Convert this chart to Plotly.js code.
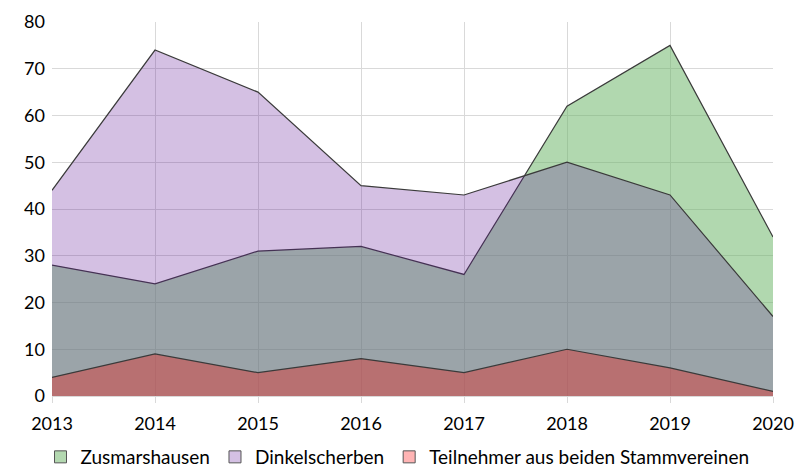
<!DOCTYPE html>
<html><head><meta charset="utf-8">
<script src="https://cdn.plot.ly/plotly-3.0.1.min.js"></script>
<style>html,body{margin:0;padding:0;background:#fff}</style>
</head><body>
<div id="chart" style="width:795px;height:470px"></div>
<script>
var years = [2013, 2014, 2015, 2016, 2017, 2018, 2019, 2020];
var zusmarshausen = [28, 24, 31, 32, 26, 62, 75, 34];
var dinkelscherben = [44, 74, 65, 45, 43, 50, 43, 17];
var beide = [4, 9, 5, 8, 5, 10, 6, 1];
var names = ['Zusmarshausen', 'Dinkelscherben', 'Teilnehmer aus beiden Stammvereinen'];

var lineStyle = {color: '#3a3a3a', width: 1.2};
var fills = ['rgba(106,180,101,0.52)', 'rgba(101,30,155,0.28)', 'rgba(213,59,58,0.5)'];
var legendColors = ['#b3d8b0', '#d4c0e3', '#ffb4b4'];
var series = [zusmarshausen, dinkelscherben, beide];

var traces = [];
series.forEach(function (s, i) {
  traces.push({x: years, y: s, name: names[i], type: 'scatter', mode: 'lines', fill: 'tozeroy',
    fillcolor: fills[i], line: lineStyle, showlegend: false});
});
series.forEach(function (s, i) {
  traces.push({x: [null], y: [null], name: names[i], type: 'scatter', mode: 'markers',
    marker: {symbol: 'square', size: 12, color: legendColors[i], line: {color: '#555', width: 1}},
    showlegend: true});
});

var layout = {
  width: 795, height: 470,
  margin: {l: 52, r: 22, t: 22, b: 74, autoexpand: false},
  paper_bgcolor: '#fff', plot_bgcolor: '#fff',
  font: {family: 'Lato, "Open Sans", sans-serif', size: 18, color: '#000'},
  showlegend: true,
  legend: {orientation: 'h', x: 0.5, xanchor: 'center', xref: 'container',
           y: 13 / 470, yanchor: 'middle', yref: 'container',
           font: {size: 19}, itemwidth: 30, traceorder: 'normal'},
  xaxis: {range: [2013, 2020], tickvals: years, ticktext: years.map(String),
          showgrid: true, gridcolor: '#d9d9d9', gridwidth: 1, zeroline: false,
          showline: true, linecolor: '#d9d9d9', ticks: 'outside', ticklen: 6,
          tickcolor: '#d9d9d9', ticklabelstandoff: 5, fixedrange: true},
  yaxis: {range: [0, 80], dtick: 10, showgrid: true, gridcolor: '#d9d9d9', gridwidth: 1,
          zeroline: false, showline: false, ticks: '', ticklabelstandoff: 6, fixedrange: true}
};
Plotly.newPlot('chart', traces, layout, {displayModeBar: false, staticPlot: true});
</script>
</body></html>
